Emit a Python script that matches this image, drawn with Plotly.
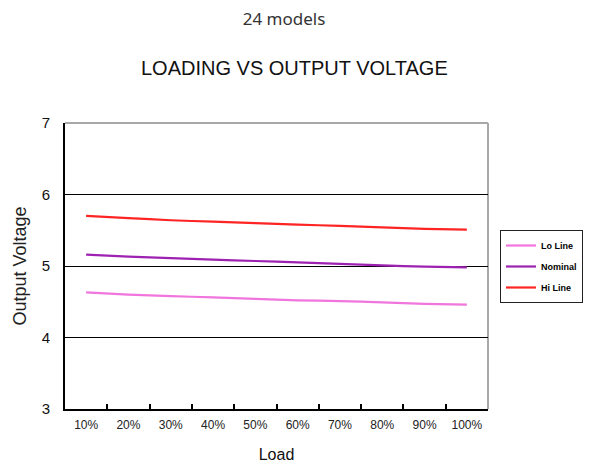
import plotly.graph_objects as go

loads = ["10%", "20%", "30%", "40%", "50%", "60%", "70%", "80%", "90%", "100%"]
lo_line = [4.63, 4.60, 4.58, 4.56, 4.54, 4.52, 4.51, 4.49, 4.47, 4.46]
nominal = [5.16, 5.13, 5.11, 5.09, 5.07, 5.05, 5.03, 5.01, 4.99, 4.98]
hi_line = [5.70, 5.67, 5.64, 5.62, 5.60, 5.58, 5.56, 5.54, 5.52, 5.51]

series = [
    ("Lo Line", lo_line, "#F075DC"),
    ("Nominal", nominal, "#9E22B2"),
    ("Hi Line", hi_line, "#FF2424"),
]

AR = "Arial, Liberation Sans, sans-serif"

fig = go.Figure()
for i, (name, vals, col) in enumerate(series):
    fig.add_trace(go.Scatter(
        x=loads, y=vals, name=name, mode="lines",
        line=dict(color=col, width=2.2, shape="spline", smoothing=0.6),
        legendgroup=name,
    ))

fig.update_layout(
    width=589, height=464,
    margin=dict(l=65, r=101, t=123, b=55, autoexpand=False),
    paper_bgcolor="white", plot_bgcolor="white",
    title=dict(text="24 models", x=(284 - 65) / 423, xanchor="center", xref="paper",
               y=1 - 19 / 464, yanchor="middle", yref="container",
               font=dict(family="Noto Sans, Open Sans, sans-serif", size=17, color="#333333")),
    showlegend=True,
    legend=dict(x=(500 - 65) / 423, y=(409 - 230) / 286, xanchor="left", yanchor="top",
                bgcolor="white", bordercolor="#222222", borderwidth=1,
                font=dict(family=AR, size=9, color="#000000", weight="bold"),
                traceorder="grouped", tracegroupgap=2, itemwidth=30,
                entrywidth=50, entrywidthmode="pixels"),
    xaxis=dict(type="category", range=[-0.5, 9.5], tickson="boundaries",
               ticks="inside", ticklen=5, tickwidth=1.5, tickcolor="black",
               showline=True, linecolor="black", linewidth=2,
               showgrid=False, zeroline=False, automargin=False,
               tickfont=dict(family=AR, size=12, color="#222222"),
               ticklabelstandoff=4,
               title=dict(text="Load", font=dict(family=AR, size=16, color="#111111"), standoff=17)),
    yaxis=dict(range=[3, 7], dtick=1, ticks="", showline=True, linecolor="black", linewidth=2,
               showgrid=True, gridcolor="black", gridwidth=1, zeroline=False, automargin=False,
               tickfont=dict(family=AR, size=15, color="#111111"),
               ticklabelstandoff=10,
               title=dict(text="Output Voltage", font=dict(family=AR, size=18, color="#222222"), standoff=10)),
    annotations=[dict(text="LOADING VS OUTPUT VOLTAGE", xref="paper", yref="paper",
                      x=(294 - 65) / 423, y=(409 - 68) / 286, xanchor="center", yanchor="middle",
                      showarrow=False, font=dict(family=AR, size=20, color="#111111"))],
    shapes=[
        dict(type="line", xref="paper", yref="paper", x0=0, x1=1, y0=1, y1=1,
             line=dict(color="#A8A8A8", width=2), layer="below"),
        dict(type="line", xref="paper", yref="paper", x0=1, x1=1, y0=0, y1=1,
             line=dict(color="#A8A8A8", width=2), layer="below"),
    ],
)

fig.write_html("out.html", config={"displayModeBar": False},
               post_script="document.body.style.margin='0';document.body.style.padding='0';")
